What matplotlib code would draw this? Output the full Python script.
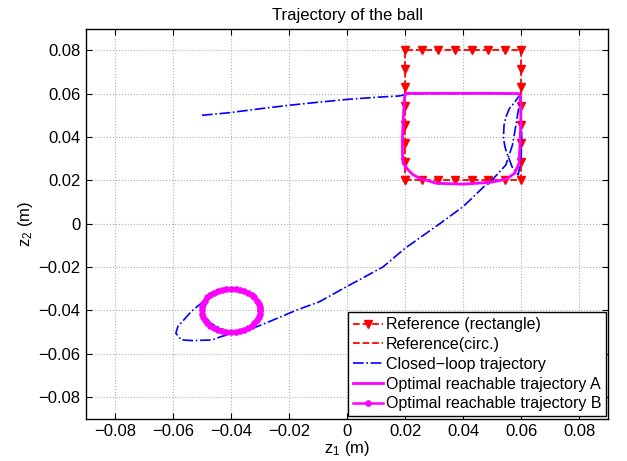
import matplotlib
matplotlib.use("Agg")
import matplotlib.pyplot as plt

plt.rcParams["font.family"] = ["Liberation Sans", "DejaVu Sans"]
plt.rcParams["font.size"] = 12
plt.rcParams["mathtext.fontset"] = "custom"
plt.rcParams["mathtext.rm"] = "Liberation Sans"
plt.rcParams["mathtext.it"] = "Liberation Sans"

# reference rectangle (8 points per side)
rect_x = [0.02, 0.0257, 0.0314, 0.0371, 0.0429, 0.0486, 0.0543, 0.06,
          0.06, 0.06, 0.06, 0.06, 0.06, 0.06, 0.06,
          0.0543, 0.0486, 0.0429, 0.0371, 0.0314, 0.0257, 0.02,
          0.02, 0.02, 0.02, 0.02, 0.02, 0.02, 0.02]
rect_y = [0.02, 0.02, 0.02, 0.02, 0.02, 0.02, 0.02, 0.02,
          0.0286, 0.0371, 0.0457, 0.0543, 0.0629, 0.0714, 0.08,
          0.08, 0.08, 0.08, 0.08, 0.08, 0.08, 0.08,
          0.0714, 0.0629, 0.0543, 0.0457, 0.0371, 0.0286, 0.02]

# reference circle / optimal trajectory B
circ_x = [-0.0300, -0.0301, -0.0305, -0.0311, -0.0319, -0.0329, -0.0341, -0.0355,
          -0.0369, -0.0384, -0.0400, -0.0416, -0.0431, -0.0445, -0.0459, -0.0471,
          -0.0481, -0.0489, -0.0495, -0.0499, -0.0500, -0.0499, -0.0495, -0.0489,
          -0.0481, -0.0471, -0.0459, -0.0445, -0.0431, -0.0416, -0.0400, -0.0384,
          -0.0369, -0.0355, -0.0341, -0.0329, -0.0319, -0.0311, -0.0305, -0.0301,
          -0.0300]
circ_y = [-0.0400, -0.0384, -0.0369, -0.0355, -0.0341, -0.0329, -0.0319, -0.0311,
          -0.0305, -0.0301, -0.0300, -0.0301, -0.0305, -0.0311, -0.0319, -0.0329,
          -0.0341, -0.0355, -0.0369, -0.0384, -0.0400, -0.0416, -0.0431, -0.0445,
          -0.0459, -0.0471, -0.0481, -0.0489, -0.0495, -0.0499, -0.0500, -0.0499,
          -0.0495, -0.0489, -0.0481, -0.0471, -0.0459, -0.0445, -0.0431, -0.0416,
          -0.0400]

# closed-loop trajectory
cl_x = [-0.0500, -0.0410, -0.0300, -0.0200, -0.0100, 0.0000, 0.0100, 0.0180,
        0.0210, 0.0300, 0.0400, 0.0500, 0.0597,
        0.0575, 0.0559, 0.0547, 0.0541, 0.0539, 0.0545, 0.0553, 0.0571, 0.0590,
        0.0600, 0.0602, 0.0600, 0.0597,
        0.0590, 0.0582, 0.0570, 0.0547, 0.0506, 0.0472,
        0.0400, 0.0320, 0.0200, 0.0124, 0.0000, -0.0094, -0.0175, -0.0267,
        -0.0324, -0.0370, -0.0433, -0.0465, -0.0530, -0.0571, -0.0590, -0.0583,
        -0.0537, -0.0502, -0.0470, -0.0430, -0.0400, -0.0360, -0.0320, -0.0300,
        -0.0320, -0.0370, -0.0420, -0.0470, -0.0495]
cl_y = [0.0500, 0.0511, 0.0530, 0.0546, 0.0560, 0.0573, 0.0583, 0.0589,
        0.0598, 0.0600, 0.0600, 0.0600, 0.0597,
        0.0555, 0.0530, 0.0490, 0.0454, 0.0393, 0.0350, 0.0317, 0.0255, 0.0225,
        0.0300, 0.0400, 0.0500, 0.0577,
        0.0520, 0.0454, 0.0362, 0.0270, 0.0210, 0.0171,
        0.0078, 0.0000, -0.0114, -0.0200, -0.0290, -0.0360, -0.0400, -0.0452,
        -0.0483, -0.0498, -0.0521, -0.0537, -0.0540, -0.0537, -0.0506, -0.0475,
        -0.0406, -0.0367, -0.0320, -0.0302, -0.0300, -0.0306, -0.0330, -0.0400,
        -0.0470, -0.0497, -0.0495, -0.0460, -0.0420]

# optimal reachable trajectory A
opt_x = [0.0205, 0.0300, 0.0400, 0.0500, 0.0592, 0.0598, 0.0599, 0.0598,
         0.0593, 0.0578, 0.0550, 0.0492, 0.0400, 0.0308, 0.0251, 0.0228,
         0.0210, 0.0193, 0.0191, 0.0191, 0.0193, 0.0196, 0.0199, 0.0205]
opt_y = [0.0601, 0.0601, 0.0601, 0.0601, 0.0600, 0.0586, 0.0500, 0.0432,
         0.0279, 0.0233, 0.0205, 0.0190, 0.0182, 0.0186, 0.0209, 0.0225,
         0.0248, 0.0279, 0.0330, 0.0400, 0.0460, 0.0540, 0.0590, 0.0601]

ticks = [-0.08, -0.06, -0.04, -0.02, 0, 0.02, 0.04, 0.06, 0.08]
tick_labels = ["\u22120.08", "\u22120.06", "\u22120.04", "\u22120.02", "0",
               "0.02", "0.04", "0.06", "0.08"]

magenta = "#ff00ff"

fig = plt.figure(figsize=(6.27, 4.61), dpi=100)
ax = fig.add_axes([0.137, 0.092, 0.833, 0.846])

ax.plot(rect_x, rect_y, "--v", color="red", lw=1.3, ms=5.5, label="Reference (rectangle)")
ax.plot(circ_x, circ_y, "--", color="red", lw=1.3, label="Reference(circ.)")
ax.plot(cl_x, cl_y, "-.", color="blue", lw=1.2, label="Closed\u2212loop trajectory")
ax.plot(opt_x, opt_y, "-", color=magenta, lw=2.0, label="Optimal reachable trajectory A")
ax.plot(circ_x, circ_y, ".-", color=magenta, lw=1.8, ms=7.5,
        label="Optimal reachable trajectory B")

ax.set_xlim(-0.09, 0.09)
ax.set_ylim(-0.09, 0.09)
ax.set_xticks(ticks)
ax.set_xticklabels(tick_labels)
ax.set_yticks(ticks)
ax.set_yticklabels(tick_labels)
ax.tick_params(direction="in", top=True, right=True, length=4, labelsize=12, pad=4)
ax.grid(True, linestyle=":", color="#b0b0b0", linewidth=0.8)
for s in ax.spines.values():
    s.set_linewidth(1.0)

ax.set_title("Trajectory of the ball", fontsize=12, pad=6)
ax.set_xlabel("z$_1$ (m)", labelpad=0)
ax.set_ylabel("z$_2$ (m)", labelpad=2)

leg = ax.legend(loc="lower right", fancybox=False, framealpha=1, edgecolor="black",
                borderaxespad=0.15, handlelength=1.9, handletextpad=0.15,
                labelspacing=0.3, borderpad=0.3, fontsize=11.5)
leg.get_frame().set_linewidth(1.0)

fig.savefig("out.png", dpi=100)
